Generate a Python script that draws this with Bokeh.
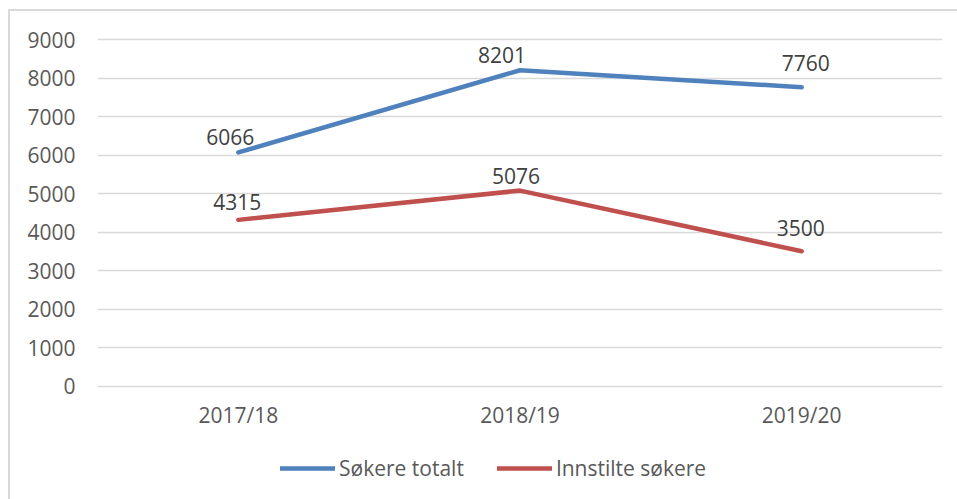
from bokeh.plotting import figure
from bokeh.models import ColumnDataSource, Legend, LegendItem, FixedTicker, FactorRange, Range1d
from bokeh.core.properties import value
from bokeh.embed import file_html
from bokeh.resources import INLINE

categories = ["2017/18", "2018/19", "2019/20"]
sokere_totalt = [6066, 8201, 7760]
innstilte_sokere = [4315, 5076, 3500]
y_ticks = [0, 1000, 2000, 3000, 4000, 5000, 6000, 7000, 8000, 9000]

# data label offsets (screen px) mimicking Excel's placement
tot_dx = [-8, -18, 4]
tot_dy = [-15, -15, -24]
inn_dx = [-1, -4, -1]
inn_dy = [-18, -15, -23]

FONT = "Open Sans"
FSIZE = "21px"
BLUE = "#4F81BD"
RED = "#C0504D"

# y view: 0..9000 grid area, plus room below for category labels and legend
p = figure(width=949, height=490, x_range=FactorRange(*categories, range_padding=0),
           y_range=Range1d(-3000, 9052), x_axis_location=None,
           output_backend="svg", toolbar_location=None,
           min_border_left=87, min_border_right=17, min_border_top=26, min_border_bottom=0)
p.margin = (9, 0, 0, 8)
p.styles = {"border-top": "2px solid #d9d9d9", "border-left": "2px solid #d9d9d9",
            "box-sizing": "border-box"}
p.outline_line_color = None
p.background_fill_color = "white"
p.border_fill_color = "white"

p.xgrid.grid_line_color = None
p.ygrid.grid_line_color = "#d9d9d9"
p.ygrid.grid_line_width = 1.5
p.yaxis.ticker = FixedTicker(ticks=y_ticks)
p.yaxis.axis_line_color = None
p.yaxis.major_tick_line_color = None
p.yaxis.minor_tick_line_color = None
p.yaxis.major_tick_out = 0
p.yaxis.major_tick_in = 0
p.yaxis.major_label_text_font = FONT
p.yaxis.major_label_text_font_size = FSIZE
p.yaxis.major_label_text_color = "#595959"
p.yaxis.major_label_standoff = 22

# category axis labels under the zero line
cat_src = ColumnDataSource(dict(x=categories, y=[0] * len(categories), t=categories))
p.text("x", "y", text="t", source=cat_src, y_offset=29, text_align="center",
       text_baseline="middle", text_font=value(FONT), text_font_size=FSIZE,
       text_color="#595959")

src_t = ColumnDataSource(dict(x=categories, y=sokere_totalt, t=[str(v) for v in sokere_totalt], dx=tot_dx, dy=tot_dy))
src_i = ColumnDataSource(dict(x=categories, y=innstilte_sokere, t=[str(v) for v in innstilte_sokere], dx=inn_dx, dy=inn_dy))

r1 = p.line("x", "y", source=src_t, line_color=BLUE, line_width=4.5, line_cap="round", line_join="round")
r2 = p.line("x", "y", source=src_i, line_color=RED, line_width=4.5, line_cap="round", line_join="round")

for src in (src_t, src_i):
    p.text("x", "y", text="t", source=src, x_offset="dx", y_offset="dy",
           text_align="center", text_baseline="middle",
           text_font=value(FONT), text_font_size=FSIZE, text_color="#404040")

legend = Legend(items=[LegendItem(label="Søkere totalt", renderers=[r1]),
                       LegendItem(label="Innstilte søkere", renderers=[r2])],
                location=(183, 19), orientation="horizontal",
                padding=0, margin=0, spacing=33, glyph_width=55, glyph_height=20,
                label_standoff=4, label_text_font=FONT, label_text_font_size=FSIZE,
                label_text_color="#595959", background_fill_alpha=0, border_line_color=None)
p.add_layout(legend, "center")

open("out.html", "w").write(file_html(p, INLINE))
